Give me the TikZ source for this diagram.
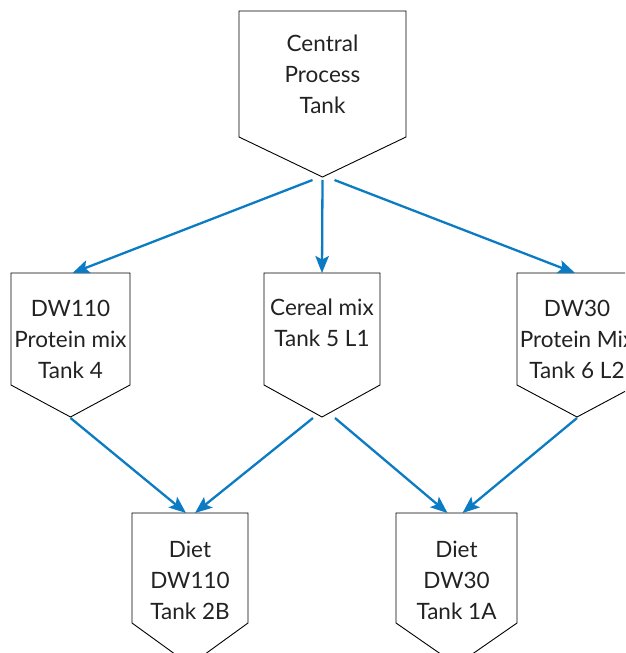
\documentclass[tikz,border=0pt]{standalone}
\usepackage{fontspec}
\setmainfont{Lato}
\usetikzlibrary{arrows.meta,calc}
\definecolor{arrowblue}{HTML}{0B7BC3}
\definecolor{txt}{HTML}{222222}
\tikzset{
  tankline/.style={draw=black, line width=0.9pt, line join=miter},
  label/.style={align=center, text=txt, font=\fontsize{22.5}{31}\selectfont, inner sep=0pt},
  flow/.style={draw=arrowblue, line width=2.3pt, -{Stealth[length=17pt,width=13.5pt,inset=3.5pt]}},
}
\newcommand{\tankshape}[6]{% name, cx, top, halfwidth, side bottom, tip
  \draw[tankline] (#2-#4,#3) -- (#2+#4,#3) -- (#2+#4,#5) -- (#2,#6) -- (#2-#4,#5) -- cycle;
  \coordinate (#1top) at (#2,#3);
  \coordinate (#1tip) at (#2,#6);
}
\begin{document}
\begin{tikzpicture}[x=1pt,y=-1pt]
  \useasboundingbox (0,0) rectangle (625,653);
  \clip (0,0) rectangle (625,653);
  % shapes
  \tankshape{c}{322.5}{11}{83.5}{137}{177}
  \tankshape{a}{70.5}{273}{59.5}{385}{417}
  \tankshape{m}{322}{273}{58}{385}{417}
  \tankshape{r}{577}{273}{60}{385}{417}
  \tankshape{b}{190}{513}{58}{623}{665}
  \tankshape{d}{456.5}{513}{60.5}{623}{665}
  % labels
  \node[label] (ct) at (322.5,74) {Central\\Process\\Tank};
  \node[label] (at) at (70.5,339) {DW110\\Protein mix\\Tank 4};
  \node[label] (mt) at (322,323) {Cereal mix\\Tank 5 L1};
  \node[label] (rt) at (577,339) {DW30\\Protein Mix\\Tank 6 L2};
  \node[label] (bt) at (190,580) {Diet\\DW110\\Tank 2B};
  \node[label] (dt) at (456.5,580) {Diet\\DW30\\Tank 1A};
  % connector end points
  \coordinate (c1) at ($(ctip)+(-10,3)$);
  \coordinate (c2) at ($(ctip)+(0,3)$);
  \coordinate (c3) at ($(ctip)+(12,3)$);
  \coordinate (a1) at ($(atip)+(0,1)$);
  \coordinate (m1) at ($(mtip)+(-9,1)$);
  \coordinate (m2) at ($(mtip)+(13,1)$);
  \coordinate (r1) at ($(rtip)+(0,1)$);
  \coordinate (aend) at ($(atop)+(2,0)$);
  \coordinate (rend) at ($(rtop)+(-2,0)$);
  \coordinate (b1) at ($(btop)+(-4,0)$);
  \coordinate (b2) at ($(btop)+(5,0)$);
  \coordinate (d1) at ($(dtop)+(-9,0)$);
  \coordinate (d2) at ($(dtop)+(6,0)$);
  % connectors
  \draw[flow] (c1) -- (aend);
  \draw[flow] (c2) -- (mtop);
  \draw[flow] (c3) -- (rend);
  \draw[flow] (a1) -- (b1);
  \draw[flow] (m1) -- (b2);
  \draw[flow] (m2) -- (d1);
  \draw[flow] (r1) -- (d2);
\end{tikzpicture}
\end{document}
